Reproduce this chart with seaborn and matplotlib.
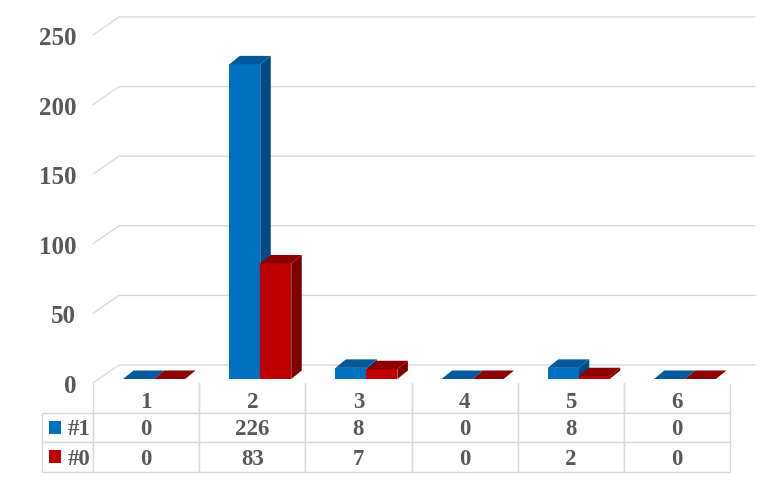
import matplotlib
matplotlib.use("Agg")
import matplotlib.pyplot as plt
from matplotlib.patches import Polygon, Rectangle
from matplotlib.transforms import ScaledTranslation
import seaborn as sns
import pandas as pd

categories = ["1", "2", "3", "4", "5", "6"]
series_names = ["#1", "#0"]
values_1 = [0, 226, 8, 0, 8, 0]
values_0 = [0, 83, 7, 0, 2, 0]
yticks = [0, 50, 100, 150, 200, 250]

front = {"#1": "#0070C0", "#0": "#C00000"}
top = {"#1": "#005A9C", "#0": "#8C0000"}
side = {"#1": "#004C82", "#0": "#7A0000"}
grid_color = "#D9D9D9"
text_color = "#595959"
font = "Liberation Serif"

W, H = 768, 480
PX_X = 637 / 6.0    # pixels per category
PX_Y = 1.392        # pixels per unit
DX, DY = 10.5 / PX_X, 8.5 / PX_Y   # depth of the bars
SHIFT = 8 / PX_X    # bars sit a little right of the column centre

data = pd.DataFrame({
    "bin": categories * 2,
    "series": [series_names[0]] * 6 + [series_names[1]] * 6,
    "count": values_1 + values_0,
})

sns.set_theme(style="white")
fig = plt.figure(figsize=(W / 100, H / 100), dpi=100)
ax = fig.add_axes([93 / W, (H - 379) / H, 637 / W, 348 / H])

sns.barplot(data=data, x="bin", y="count", hue="series", hue_order=series_names,
            palette=front, width=62 / PX_X, saturation=1, legend=False, ax=ax, zorder=3)
ax.set_xlim(-0.5 - SHIFT, 5.5 - SHIFT)
ax.set_ylim(0, 250)
ax.set_xlabel("")
ax.set_ylabel("")
ax.set_xticks([])
sns.despine(ax=ax, left=True, bottom=True)

# 3d look: side and top faces taken from the bars seaborn drew
for container, name in zip(ax.containers, series_names):
    z = 3 if name == "#1" else 5
    for bar in container:
        x0, w, h = bar.get_x(), bar.get_width(), bar.get_height()
        x1 = x0 + w
        bar.set_linewidth(0)
        bar.set_zorder(z + 1)
        bar.set_clip_on(False)
        ax.add_patch(Polygon([(x1, 0), (x1 + DX, DY), (x1 + DX, h + DY), (x1, h)],
                             fc=side[name], lw=0, zorder=z, clip_on=False))
        ax.add_patch(Polygon([(x0, h), (x0 + DX, h + DY), (x1 + DX, h + DY), (x1, h)],
                             fc=top[name], lw=0, zorder=z + 1, clip_on=False))

# back wall lines with the diagonal going to the front edge
left = -0.5 - SHIFT
back_dx, back_dy = 26 / PX_X, 14 / PX_Y
front_dy = -4 / PX_Y
right = left + (755 - 93) / PX_X
for v in yticks:
    ax.plot([left, left + back_dx, right], [v + front_dy, v + back_dy, v + back_dy],
            color=grid_color, lw=1, zorder=1, clip_on=False)

ax.set_yticks(yticks)
ax.tick_params(axis="y", length=0, pad=12)
shift_down = ScaledTranslation(0, -5 / 100, fig.dpi_scale_trans)
for label in ax.get_yticklabels():
    label.set_fontfamily(font)
    label.set_fontweight("bold")
    label.set_fontsize(18)
    label.set_color(text_color)
    label.set_transform(label.get_transform() + shift_down)

# data table under the chart
rows = [[""] + categories,
        [series_names[0]] + [str(v) for v in values_1],
        [series_names[1]] + [str(v) for v in values_0]]
col_w = [51 / 688] + [PX_X / 688] * 6
table = ax.table(cellText=rows, colWidths=col_w, cellLoc="center",
                 bbox=[(42 - 93) / 637, (379 - 472) / 348, 688 / 637, 89 / 348])
table.auto_set_font_size(False)
text_drop = {0: 5, 1: 2, 2: 2}
for (r, c), cell in table.get_celld().items():
    cell.set_edgecolor(grid_color)
    cell.set_linewidth(1)
    cell.set_text_props(fontfamily=font, fontweight="bold", fontsize=16.5, color=text_color)
    cell.get_text().set_transform(ScaledTranslation(0, -text_drop[r] / 100, fig.dpi_scale_trans))
    if r == 0:
        cell.visible_edges = "LRB" if c > 0 else ""
    if c == 0:
        cell.PAD = 0.05
        cell.get_text().set_ha("right")

for name, y_px in zip(series_names, [421, 450]):
    fig.add_artist(Rectangle((49 / W, 1 - (y_px + 13) / H), 12 / W, 13 / H,
                             transform=fig.transFigure, fc=front[name], lw=0))

fig.savefig("out.png", dpi=100)
